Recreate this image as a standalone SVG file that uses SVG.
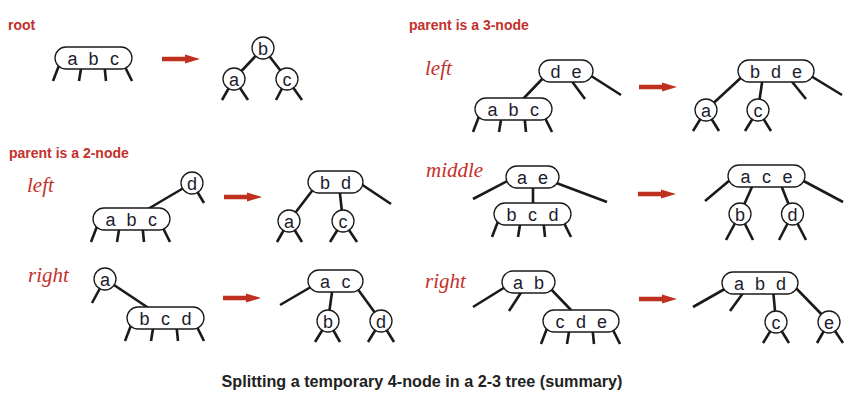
<svg xmlns="http://www.w3.org/2000/svg" xmlns:xlink="http://www.w3.org/1999/xlink" width="862" height="410" viewBox="0 0 862 410">
<style>
.bg{fill:#fff}
.e{stroke:#1a1a1a;stroke-width:2.6;fill:none}
.n{fill:#fff;stroke:#1a1a1a;stroke-width:1.3}
.k{font-family:"Liberation Sans",Arial,sans-serif;font-size:18px;fill:#1c1c2e;text-anchor:middle}
.h{font-family:"Liberation Sans",Arial,sans-serif;font-size:14px;font-weight:bold;fill:#c4302b}
.i{font-family:"Liberation Serif","Times New Roman",serif;font-size:21px;font-style:italic;fill:#c4302b}
.t{font-family:"Liberation Sans",Arial,sans-serif;font-size:16px;font-weight:bold;fill:#222}
.a{fill:#c0301f}
</style>
<defs>
<path id="arr" d="M0,-2.2 H23 V-4.6 L38,0 L23,4.6 V2.2 H0 Z"/>
</defs>
<rect class="bg" x="0" y="0" width="862" height="410"/>

<g id="labels">
<text class="h" x="8" y="30">root</text>
<text class="h" x="409" y="30">parent is a 3-node</text>
<text class="h" x="9" y="158">parent is a 2-node</text>
<text class="i" x="425" y="75">left</text>
<text class="i" x="27" y="192">left</text>
<text class="i" x="28" y="282">right</text>
<text class="i" x="426" y="177">middle</text>
<text class="i" x="425" y="288">right</text>
<text class="t" x="422" y="387" text-anchor="middle" textLength="401" lengthAdjust="spacingAndGlyphs">Splitting a temporary 4-node in a 2-3 tree (summary)</text>
</g>

<g id="arrows" class="a">
<use xlink:href="#arr" x="162" y="59"/>
<use xlink:href="#arr" x="639" y="87"/>
<use xlink:href="#arr" x="224" y="197"/>
<use xlink:href="#arr" x="638" y="194"/>
<use xlink:href="#arr" x="223" y="298"/>
<use xlink:href="#arr" x="639" y="299"/>
</g>

<g id="connectors" class="e">
<line x1="60.7" y1="61" x2="53" y2="81"/>
<line x1="82.3" y1="61" x2="79" y2="81"/>
<line x1="104" y1="61" x2="106" y2="81"/>
<line x1="122" y1="61" x2="132" y2="81"/>
<line x1="263" y1="48" x2="234" y2="79"/>
<line x1="263" y1="48" x2="287" y2="79"/>
<line x1="234" y1="79" x2="222" y2="100"/>
<line x1="234" y1="79" x2="248" y2="100"/>
<line x1="287" y1="79" x2="276" y2="100"/>
<line x1="287" y1="79" x2="302" y2="100"/>
<line x1="192" y1="183" x2="148" y2="209"/>
<line x1="192" y1="183" x2="204" y2="203"/>
<line x1="98.7" y1="222" x2="91" y2="242"/>
<line x1="120.3" y1="222" x2="117" y2="242"/>
<line x1="142" y1="222" x2="144" y2="242"/>
<line x1="160" y1="222" x2="170" y2="242"/>
<line x1="315" y1="187" x2="289" y2="221"/>
<line x1="339" y1="185" x2="343" y2="221"/>
<line x1="358" y1="182" x2="391" y2="204"/>
<line x1="289" y1="221" x2="277" y2="242"/>
<line x1="289" y1="221" x2="302" y2="242"/>
<line x1="343" y1="221" x2="330" y2="242"/>
<line x1="343" y1="221" x2="357" y2="242"/>
<line x1="105" y1="279" x2="92" y2="303"/>
<line x1="105" y1="279" x2="150" y2="309"/>
<line x1="132.7" y1="321" x2="125" y2="341"/>
<line x1="154.3" y1="321" x2="151" y2="341"/>
<line x1="176" y1="321" x2="178" y2="341"/>
<line x1="194" y1="321" x2="204" y2="341"/>
<line x1="316" y1="284" x2="280" y2="305"/>
<line x1="333" y1="285" x2="328" y2="321"/>
<line x1="354" y1="284" x2="381" y2="321"/>
<line x1="328" y1="321" x2="315" y2="342"/>
<line x1="328" y1="321" x2="340" y2="342"/>
<line x1="381" y1="321" x2="368" y2="342"/>
<line x1="381" y1="321" x2="394" y2="342"/>
<line x1="547" y1="74" x2="523" y2="99"/>
<line x1="568" y1="76" x2="585" y2="99"/>
<line x1="585" y1="72" x2="621" y2="95"/>
<line x1="480.7" y1="112" x2="473" y2="132"/>
<line x1="502.3" y1="112" x2="499" y2="132"/>
<line x1="524" y1="112" x2="526" y2="132"/>
<line x1="542" y1="112" x2="552" y2="132"/>
<line x1="745" y1="74" x2="706" y2="110"/>
<line x1="763" y1="76" x2="758" y2="110"/>
<line x1="789" y1="78" x2="806" y2="99"/>
<line x1="806" y1="73" x2="842" y2="95"/>
<line x1="706" y1="110" x2="693" y2="131"/>
<line x1="706" y1="110" x2="719" y2="131"/>
<line x1="758" y1="110" x2="745" y2="131"/>
<line x1="758" y1="110" x2="771" y2="131"/>
<line x1="515" y1="177" x2="473" y2="199"/>
<line x1="533" y1="180" x2="533" y2="205"/>
<line x1="551" y1="181" x2="607" y2="202"/>
<line x1="499.7" y1="217" x2="492" y2="237"/>
<line x1="521.3" y1="217" x2="518" y2="237"/>
<line x1="543" y1="217" x2="545" y2="237"/>
<line x1="561" y1="217" x2="571" y2="237"/>
<line x1="736" y1="175" x2="705" y2="201"/>
<line x1="755" y1="180" x2="740" y2="214"/>
<line x1="779" y1="180" x2="792.5" y2="214"/>
<line x1="798" y1="178" x2="843" y2="202"/>
<line x1="740" y1="214" x2="726" y2="240"/>
<line x1="740" y1="214" x2="753" y2="240"/>
<line x1="792.5" y1="214" x2="779" y2="240"/>
<line x1="792.5" y1="214" x2="806" y2="240"/>
<line x1="510" y1="284" x2="473" y2="307"/>
<line x1="524" y1="288" x2="509" y2="311"/>
<line x1="546" y1="284" x2="571" y2="310"/>
<line x1="548.7" y1="324" x2="541" y2="344"/>
<line x1="570.3" y1="324" x2="567" y2="344"/>
<line x1="592" y1="324" x2="594" y2="344"/>
<line x1="610" y1="324" x2="620" y2="344"/>
<line x1="730" y1="286" x2="693" y2="307"/>
<line x1="746" y1="289" x2="730" y2="311"/>
<line x1="773" y1="289" x2="776" y2="322"/>
<line x1="792" y1="284" x2="829" y2="322"/>
<line x1="776" y1="322" x2="763" y2="343"/>
<line x1="776" y1="322" x2="789" y2="343"/>
<line x1="829" y1="322" x2="817" y2="343"/>
<line x1="829" y1="322" x2="843" y2="343"/>
</g>

<g id="root-abc"><rect class="n" x="55" y="47" width="77" height="22" rx="11"/><text class="k" x="72.5" y="64.5">a</text><text class="k" x="93.5" y="64.5">b</text><text class="k" x="114.5" y="64.5">c</text></g>
<g id="root-b"><circle class="n" cx="263" cy="48" r="11"/><text class="k" x="263" y="54.5">b</text></g>
<g id="root-a"><circle class="n" cx="234" cy="79" r="11"/><text class="k" x="234" y="85.5">a</text></g>
<g id="root-c"><circle class="n" cx="287" cy="79" r="11"/><text class="k" x="287" y="85.5">c</text></g>

<g id="p2l-d"><circle class="n" cx="192" cy="183" r="11"/><text class="k" x="192" y="189.5">d</text></g>
<g id="p2l-abc"><rect class="n" x="93" y="208" width="77" height="22" rx="11"/><text class="k" x="110.5" y="225.5">a</text><text class="k" x="131.5" y="225.5">b</text><text class="k" x="152.5" y="225.5">c</text></g>
<g id="p2l-bd"><rect class="n" x="308" y="171" width="55" height="22" rx="11"/><text class="k" x="325" y="188.5">b</text><text class="k" x="346" y="188.5">d</text></g>
<g id="p2l-a"><circle class="n" cx="289" cy="221" r="11"/><text class="k" x="289" y="227.5">a</text></g>
<g id="p2l-c"><circle class="n" cx="343" cy="221" r="11"/><text class="k" x="343" y="227.5">c</text></g>

<g id="p2r-a"><circle class="n" cx="105" cy="279" r="11"/><text class="k" x="105" y="285.5">a</text></g>
<g id="p2r-bcd"><rect class="n" x="127" y="307" width="77" height="22" rx="11"/><text class="k" x="144.5" y="324.5">b</text><text class="k" x="165.5" y="324.5">c</text><text class="k" x="186.5" y="324.5">d</text></g>
<g id="p2r-ac"><rect class="n" x="308" y="270" width="55" height="22" rx="11"/><text class="k" x="325" y="287.5">a</text><text class="k" x="346" y="287.5">c</text></g>
<g id="p2r-b"><circle class="n" cx="328" cy="321" r="11"/><text class="k" x="328" y="327.5">b</text></g>
<g id="p2r-d"><circle class="n" cx="381" cy="321" r="11"/><text class="k" x="381" y="327.5">d</text></g>

<g id="p3l-de"><rect class="n" x="539" y="60" width="54" height="22" rx="11"/><text class="k" x="555.5" y="77.5">d</text><text class="k" x="576.5" y="77.5">e</text></g>
<g id="p3l-abc"><rect class="n" x="475" y="98" width="77" height="22" rx="11"/><text class="k" x="492.5" y="115.5">a</text><text class="k" x="513.5" y="115.5">b</text><text class="k" x="534.5" y="115.5">c</text></g>
<g id="p3l-bde"><rect class="n" x="738" y="60" width="76" height="22" rx="11"/><text class="k" x="755" y="77.5">b</text><text class="k" x="776" y="77.5">d</text><text class="k" x="797" y="77.5">e</text></g>
<g id="p3l-a"><circle class="n" cx="706" cy="110" r="11"/><text class="k" x="706" y="116.5">a</text></g>
<g id="p3l-c"><circle class="n" cx="758" cy="110" r="11"/><text class="k" x="758" y="116.5">c</text></g>

<g id="p3m-ae"><rect class="n" x="506" y="166" width="53" height="22" rx="11"/><text class="k" x="522" y="183.5">a</text><text class="k" x="543" y="183.5">e</text></g>
<g id="p3m-bcd"><rect class="n" x="494" y="203" width="77" height="22" rx="11"/><text class="k" x="511.5" y="220.5">b</text><text class="k" x="532.5" y="220.5">c</text><text class="k" x="553.5" y="220.5">d</text></g>
<g id="p3m-ace"><rect class="n" x="728" y="165" width="77" height="22" rx="11"/><text class="k" x="745.5" y="182.5">a</text><text class="k" x="766.5" y="182.5">c</text><text class="k" x="787.5" y="182.5">e</text></g>
<g id="p3m-b"><circle class="n" cx="740" cy="214" r="11"/><text class="k" x="740" y="220.5">b</text></g>
<g id="p3m-d"><circle class="n" cx="792.5" cy="214" r="11"/><text class="k" x="792.5" y="220.5">d</text></g>

<g id="p3r-ab"><rect class="n" x="502" y="271" width="53" height="22" rx="11"/><text class="k" x="518" y="288.5">a</text><text class="k" x="539" y="288.5">b</text></g>
<g id="p3r-cde"><rect class="n" x="543" y="310" width="76" height="22" rx="11"/><text class="k" x="560" y="327.5">c</text><text class="k" x="581" y="327.5">d</text><text class="k" x="602" y="327.5">e</text></g>
<g id="p3r-abd"><rect class="n" x="722" y="272" width="76" height="22" rx="11"/><text class="k" x="739" y="289.5">a</text><text class="k" x="760" y="289.5">b</text><text class="k" x="781" y="289.5">d</text></g>
<g id="p3r-c"><circle class="n" cx="776" cy="322" r="11"/><text class="k" x="776" y="328.5">c</text></g>
<g id="p3r-e"><circle class="n" cx="829" cy="322" r="11"/><text class="k" x="829" y="328.5">e</text></g>
</svg>
